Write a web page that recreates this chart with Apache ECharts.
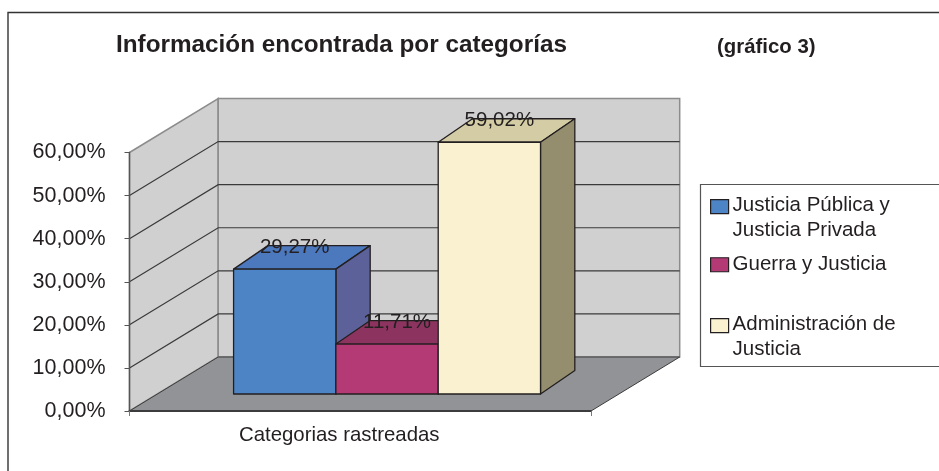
<!DOCTYPE html>
<html><head><meta charset="utf-8">
<style>html,body{margin:0;padding:0;background:#fff}#c{width:939px;height:471px}</style>
<script src="https://cdn.jsdelivr.net/npm/echarts@6/dist/echarts.min.js"></script>
</head><body><div id="c"></div>
<script>
const categories = ['Categorias rastreadas'];
const seriesNames = ['Justicia Pública y\nJusticia Privada', 'Guerra y Justicia', 'Administración de\nJusticia'];
const seriesValues = [29.27, 11.71, 59.02];
const valueLabels = ['29,27%', '11,71%', '59,02%'];
const yTicks = [0, 10, 20, 30, 40, 50, 60];
const frontColors = ['#4c84c6', '#b43a75', '#f9f1cf'];
const topColors = ['#4c78be', '#8c345f', '#d3cca4'];
const sideColors = ['#5c6299', '#7d2f62', '#948e6e'];

const INK = '#231f20';
const WALL_DX = 88.7, WALL_DY = -54;
const BAR_DX = 26.8, BAR_DY = -17, DEPTH_DX = 34.3, DEPTH_DY = -23.5;
const BAR_RATIO = 0.2217, BAR_SCALE = 0.99;
const FONT = '"Liberation Sans", Arial, sans-serif';

function renderWalls(params, api) {
  const cs = params.coordSys;
  const x0 = cs.x, x1 = cs.x + cs.width;
  const yAt = v => api.coord([0, v])[1];
  const y0 = yAt(0), yTop = yAt(yTicks[yTicks.length - 1]);
  const children = [
    {type:'polygon', shape:{points:[[x0,yTop],[x0+WALL_DX,yTop+WALL_DY],[x0+WALL_DX,y0+WALL_DY],[x0,y0]]}, style:{fill:'#d0d0d0', stroke:'#8c8c8c', lineWidth:1.5}},
    {type:'polygon', shape:{points:[[x0+WALL_DX,yTop+WALL_DY],[x1+WALL_DX,yTop+WALL_DY],[x1+WALL_DX,y0+WALL_DY],[x0+WALL_DX,y0+WALL_DY]]}, style:{fill:'#d0d0d0', stroke:'#8c8c8c', lineWidth:1.5}},
    {type:'polygon', shape:{points:[[x0,y0],[x0+WALL_DX,y0+WALL_DY],[x1+WALL_DX,y0+WALL_DY],[x1,y0]]}, style:{fill:'#929396', stroke:'#3c3c3c', lineWidth:1}}
  ];
  yTicks.slice(1, -1).forEach(v => {
    const y = yAt(v);
    children.push({type:'polyline', shape:{points:[[x0,y],[x0+WALL_DX,y+WALL_DY],[x1+WALL_DX,y+WALL_DY]]}, style:{fill:'none', stroke:'#3a3a3a', lineWidth:1.2}});
  });
  return {type:'group', children};
}

function renderBar(idx) {
  return function (params, api) {
    const base = api.coord([0, 0]);
    const top = api.coord([0, api.value(1)]);
    const band = api.size([1, 0])[0];
    const w = band * BAR_RATIO;
    const xl = base[0] - 1.5 * w + idx * w + BAR_DX, xr = xl + w;
    const yb = base[1] + BAR_DY;
    const yt = yb - (base[1] - top[1]) * BAR_SCALE;
    const line = {stroke: INK, lineWidth: 1.3, lineJoin: 'round'};
    return {type:'group', children:[
      {type:'polygon', shape:{points:[[xl,yt],[xl+DEPTH_DX,yt+DEPTH_DY],[xr+DEPTH_DX,yt+DEPTH_DY],[xr,yt]]}, style:Object.assign({fill:topColors[idx]}, line)},
      {type:'polygon', shape:{points:[[xr,yt],[xr+DEPTH_DX,yt+DEPTH_DY],[xr+DEPTH_DX,yb+DEPTH_DY],[xr,yb]]}, style:Object.assign({fill:sideColors[idx]}, line)},
      {type:'rect', shape:{x:xl, y:yt, width:w, height:yb-yt}, style:Object.assign({fill:frontColors[idx]}, line)},
      {type:'text', style:{text:valueLabels[idx], x:(xl+xr)/2+10, y:yt-21.5, align:'center', verticalAlign:'middle', fill:INK, font:'20.5px "Liberation Sans", Arial, sans-serif'}}
    ]};
  };
}

const TWO_LINE_ICON = 'path://M0 0L0.01 0M0 8h18v14h-18zM0 52L0.01 52';
function legendAt(i, top, icon, h) {
  return {
    data:[seriesNames[i]], left:710, top, orient:'vertical', padding:0, itemGap:0,
    itemWidth:18, itemHeight:h, icon, selectedMode:false,
    itemStyle:{color:frontColors[i], borderColor:INK, borderWidth:1.2},
    textStyle:{fontFamily:FONT, fontSize:20.5, lineHeight:25.5, color:INK, padding:[0,0,0,-1]}
  };
}

const chart = echarts.init(document.getElementById('c'), null, {renderer:'canvas'});
chart.setOption({
  animation:false,
  backgroundColor:'#fff',
  title:[
    {text:'Información encontrada por categorías', left:116, top:33, padding:0, textStyle:{fontFamily:FONT, fontSize:24.3, fontWeight:'bold', color:INK}},
    {text:'(gráfico 3)', left:717, top:37, padding:0, textStyle:{fontFamily:FONT, fontSize:20.4, fontWeight:'bold', color:INK}}
  ],
  graphic:[
    {type:'polyline', silent:true, shape:{points:[[8,471],[8,12.5],[939,12.5]]}, style:{fill:'none', stroke:'#333', lineWidth:1.4}},
    {type:'rect', silent:true, z:-1, shape:{x:700.5,y:184.5,width:260,height:182}, style:{fill:'#fff', stroke:'#555', lineWidth:1.2}}
  ],
  legend:[
    legendAt(0, 191, TWO_LINE_ICON, 52),
    legendAt(1, 252, 'rect', 14),
    legendAt(2, 310, TWO_LINE_ICON, 52)
  ],
  grid:{left:129.5, top:152.5, width:461.5, height:258.5, containLabel:false},
  xAxis:{type:'category', data:categories, z:5,
    axisLine:{show:true, lineStyle:{color:'#3c3c3c', width:2}},
    axisTick:{show:true, length:5, lineStyle:{color:'#777', width:1}},
    axisLabel:{margin:14, padding:[0,42,0,0], fontFamily:FONT, fontSize:20.4, color:INK}},
  yAxis:{type:'value', min:0, max:60, interval:10, z:5,
    axisLine:{show:true, lineStyle:{color:'#555', width:1.4}},
    axisTick:{show:true, length:5, lineStyle:{color:'#555', width:1}},
    splitLine:{show:false},
    axisLabel:{margin:24, padding:[3,0,0,0], formatter:v => v.toFixed(2).replace('.', ',') + '%', fontFamily:FONT, fontSize:21.5, color:INK}},
  series:[
    {type:'custom', name:'walls', silent:true, z:1, data:[[0,0]], renderItem:renderWalls, encode:{x:0,y:1}},
    ...seriesNames.map((name,i) => ({
      type:'custom', name, z:2+i, silent:true,
      itemStyle:{color:frontColors[i]},
      data:[[0, seriesValues[i]]], encode:{x:0,y:1}, renderItem:renderBar(i)
    }))
  ]
});
</script></body></html>
